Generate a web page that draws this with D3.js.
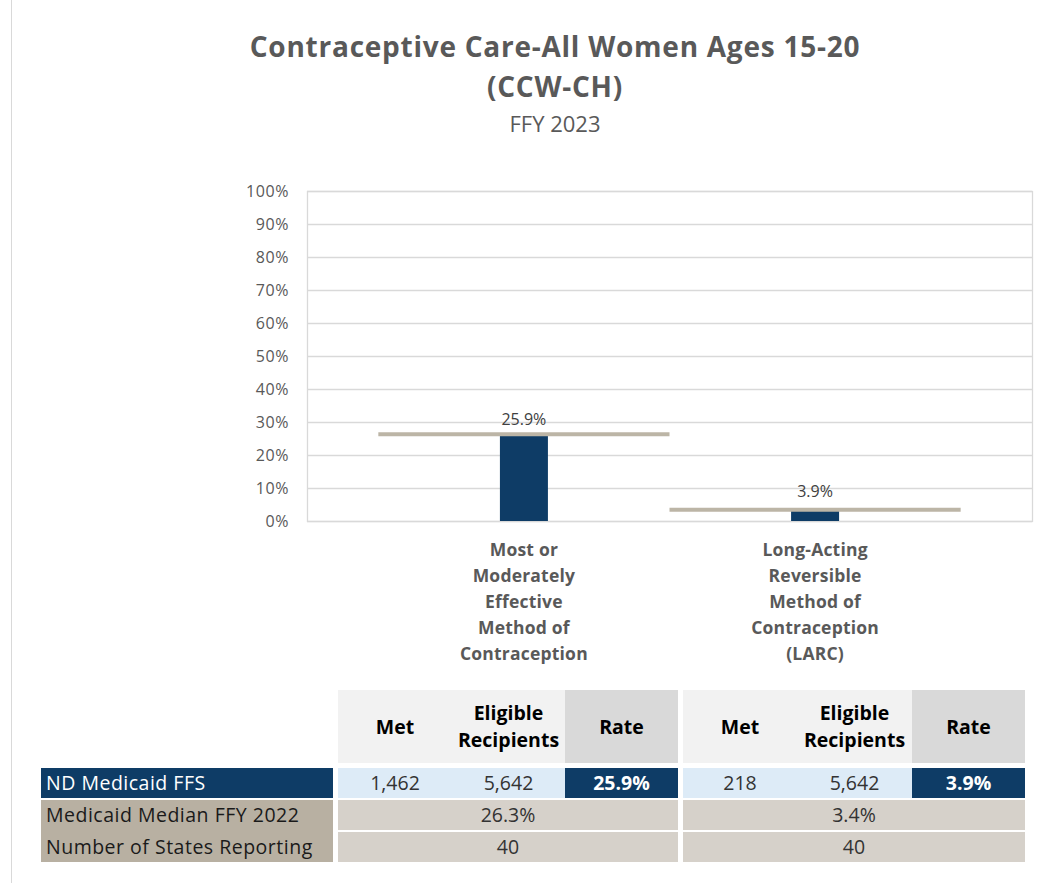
<!DOCTYPE html>
<html>
<head>
<meta charset="utf-8">
<script src="https://cdn.jsdelivr.net/npm/d3@7"></script>
<style>
  html, body { margin: 0; padding: 0; background: #fff; }
  svg { display: block; }
  text { font-family: "Open Sans", "Noto Sans", sans-serif; }
</style>
</head>
<body>
<div id="chart"></div>
<script>
// ---- Data ----
const titleLines = ["Contraceptive Care-All Women Ages 15-20", "(CCW-CH)"];
const subtitle = "FFY 2023";
const categories = ["MME", "LARC"];
const categoryLabels = [
  ["Most or", "Moderately", "Effective", "Method of", "Contraception"],
  ["Long-Acting", "Reversible", "Method of", "Contraception", "(LARC)"]
];
const rates = [25.9, 3.9];          // ND Medicaid FFS rate (%)
const medians = [26.3, 3.4];        // Medicaid Median FFY 2022 (%)
const metValues = ["1,462", "218"];
const eligibleValues = ["5,642", "5,642"];
const statesReporting = ["40", "40"];
const yTicks = [0, 10, 20, 30, 40, 50, 60, 70, 80, 90, 100];
const tableHeaders = ["Met", ["Eligible", "Recipients"], "Rate"];
const rowLabels = ["ND Medicaid FFS", "Medicaid Median FFY 2022", "Number of States Reporting"];

// ---- Layout ----
const W = 1041, H = 883;
const plot = { left: 307, right: 1032, top: 191, bottom: 521 };
const navy = "#0E3C66";
const textGray = "#595959";

const svg = d3.select("#chart").append("svg")
  .attr("width", W).attr("height", H);

// outer frame line on the left
svg.append("line").attr("x1", 11.5).attr("x2", 11.5).attr("y1", 0).attr("y2", H)
  .attr("stroke", "#D9D9D9").attr("stroke-width", 1);

// Titles
const titleG = svg.append("g").attr("text-anchor", "middle").attr("fill", textGray);
titleG.selectAll("text.t").data(titleLines).join("text")
  .attr("class", "t")
  .attr("x", 555).attr("y", (d, i) => 57 + i * 40)
  .attr("font-size", 28).attr("font-weight", 700)
  .attr("letter-spacing", 0.75)
  .attr("fill", textGray)
  .text(d => d);
titleG.append("text").attr("x", 555).attr("y", 132)
  .attr("font-size", 22).attr("fill", textGray).text(subtitle);

// Scales
const x = d3.scalePoint().domain(categories).range([plot.left, plot.right]).padding(0.745);
const step = x.step();
const y = d3.scaleLinear().domain([0, 100]).range([plot.bottom, plot.top]);

// Gridlines
svg.append("g").selectAll("line").data(yTicks).join("line")
  .attr("x1", plot.left).attr("x2", plot.right)
  .attr("y1", d => Math.round(y(d)) + 0.5).attr("y2", d => Math.round(y(d)) + 0.5)
  .attr("stroke", "#D9D9D9").attr("stroke-width", 1.3);
// plot border
svg.append("rect")
  .attr("x", plot.left + 0.5).attr("y", Math.round(plot.top) + 0.5)
  .attr("width", plot.right - plot.left).attr("height", plot.bottom - plot.top)
  .attr("fill", "none").attr("stroke", "#D9D9D9").attr("stroke-width", 1.3);

// Y axis
const yAxis = d3.axisLeft(y).tickValues(yTicks).tickFormat(d => d + "%").tickSize(0).tickPadding(0);
const yg = svg.append("g").attr("transform", `translate(${plot.left - 18},0)`).call(yAxis);
yg.select(".domain").remove();
yg.selectAll("text").attr("font-size", 16).attr("fill", textGray)
  .attr("letter-spacing", 0.6)
  .attr("font-family", "'Open Sans', sans-serif");

// Bars
const barW = 48;
svg.append("g").selectAll("rect").data(categories).join("rect")
  .attr("x", d => x(d) - barW / 2)
  .attr("y", (d, i) => y(rates[i]))
  .attr("width", barW)
  .attr("height", (d, i) => y(0) - y(rates[i]))
  .attr("fill", navy);

// Median lines
svg.append("g").selectAll("line").data(categories).join("line")
  .attr("x1", d => x(d) - step / 2)
  .attr("x2", d => x(d) + step / 2)
  .attr("y1", (d, i) => y(medians[i]))
  .attr("y2", (d, i) => y(medians[i]))
  .attr("stroke", "#BCB5A6").attr("stroke-width", 4);

// Bar value labels
svg.append("g").selectAll("text").data(categories).join("text")
  .attr("x", d => x(d))
  .attr("y", (d, i) => y(rates[i]) - 11)
  .attr("text-anchor", "middle")
  .attr("font-size", 16).attr("fill", "#404040")
  .text((d, i) => rates[i].toFixed(1) + "%");

// Category labels
const catG = svg.append("g").attr("text-anchor", "middle");
categories.forEach((c, i) => {
  catG.append("g").selectAll("text").data(categoryLabels[i]).join("text")
    .attr("x", x(c))
    .attr("y", (d, j) => 556 + j * 26)
    .attr("font-size", 17.5).attr("font-weight", 700).attr("fill", textGray)
    .attr("letter-spacing", 0.2)
    .text(d => d);
});

// ---- Table ----
const blocks = [
  { cols: [338, 452, 565, 678] },
  { cols: [683, 797, 912, 1025] }
];
const headTop = 690, headBot = 763;
const rows = [ { top: 768, bot: 798 }, { top: 800, bot: 830 }, { top: 832, bot: 862 } ];
const labelX0 = 41, labelX1 = 333;
const tfs = 19.5;
const tg = svg.append("g");

blocks.forEach((b, bi) => {
  // headers
  for (let k = 0; k < 3; k++) {
    tg.append("rect").attr("x", b.cols[k]).attr("y", headTop)
      .attr("width", b.cols[k + 1] - b.cols[k]).attr("height", headBot - headTop)
      .attr("fill", k === 2 ? "#D9D9D9" : "#F2F2F2");
    const cx = (b.cols[k] + b.cols[k + 1]) / 2;
    const h = tableHeaders[k];
    const lines = Array.isArray(h) ? h : [h];
    const cy = (headTop + headBot) / 2;
    lines.forEach((ln, j) => {
      tg.append("text").attr("x", cx)
        .attr("y", cy + (j - (lines.length - 1) / 2) * 27 + 7)
        .attr("text-anchor", "middle").attr("font-size", tfs).attr("font-weight", 700)
        .attr("fill", "#000").text(ln);
    });
  }
  // row 1
  tg.append("rect").attr("x", b.cols[0]).attr("y", rows[0].top)
    .attr("width", b.cols[2] - b.cols[0]).attr("height", rows[0].bot - rows[0].top)
    .attr("fill", "#DDEBF7");
  tg.append("rect").attr("x", b.cols[2]).attr("y", rows[0].top)
    .attr("width", b.cols[3] - b.cols[2]).attr("height", rows[0].bot - rows[0].top)
    .attr("fill", navy);
  const r1y = (rows[0].top + rows[0].bot) / 2 + 7;
  [metValues[bi], eligibleValues[bi], rates[bi].toFixed(1) + "%"].forEach((v, k) => {
    tg.append("text").attr("x", (b.cols[k] + b.cols[k + 1]) / 2).attr("y", r1y)
      .attr("text-anchor", "middle").attr("font-size", tfs)
      .attr("font-weight", k === 2 ? 700 : 400)
      .attr("fill", k === 2 ? "#fff" : "#333").text(v);
  });
  // rows 2-3 (merged)
  [medians[bi].toFixed(1) + "%", statesReporting[bi]].forEach((v, r) => {
    const row = rows[r + 1];
    tg.append("rect").attr("x", b.cols[0]).attr("y", row.top)
      .attr("width", b.cols[3] - b.cols[0]).attr("height", row.bot - row.top)
      .attr("fill", "#D6D1CA");
    tg.append("text").attr("x", (b.cols[0] + b.cols[3]) / 2).attr("y", (row.top + row.bot) / 2 + 7)
      .attr("text-anchor", "middle").attr("font-size", tfs).attr("fill", "#333").text(v);
  });
});

// row labels
rowLabels.forEach((lab, r) => {
  const row = rows[r];
  tg.append("rect").attr("x", labelX0).attr("y", r === 2 ? row.top - 2 : row.top)
    .attr("width", labelX1 - labelX0).attr("height", row.bot - row.top + (r === 2 ? 2 : 0))
    .attr("fill", r === 0 ? navy : "#B8B0A2");
  tg.append("text").attr("x", labelX0 + 5).attr("y", (row.top + row.bot) / 2 + 7)
    .attr("font-size", tfs).attr("letter-spacing", 0.5)
    .attr("fill", r === 0 ? "#fff" : "#1a1a1a").text(lab);
});
</script>
</body>
</html>
